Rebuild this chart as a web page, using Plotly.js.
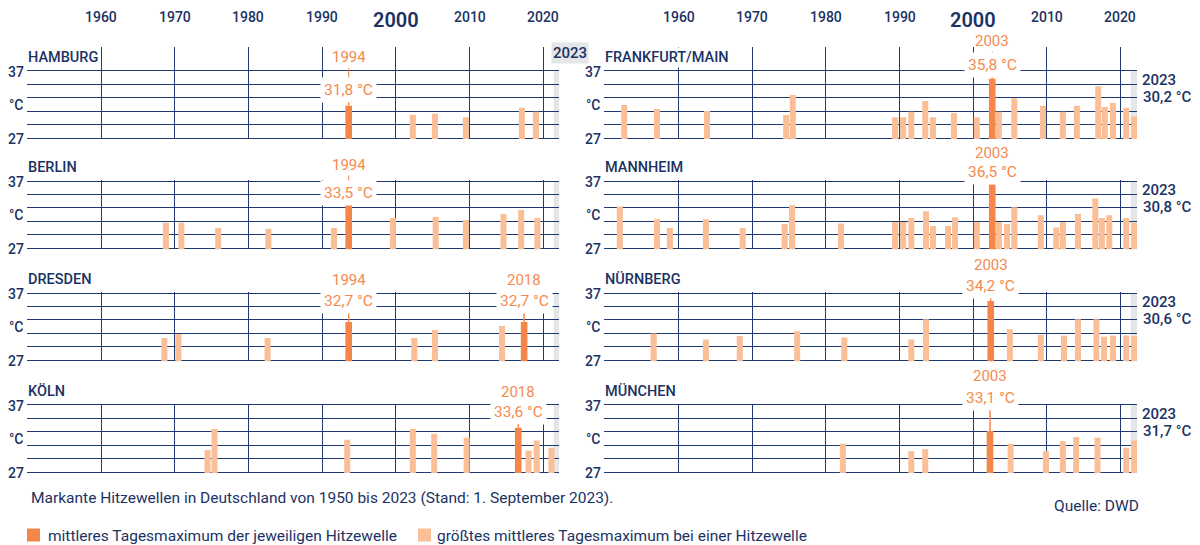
<!DOCTYPE html>
<html><head><meta charset="utf-8">
<script src="https://cdn.plot.ly/plotly-3.0.1.min.js"></script>
<style>html,body{margin:0;padding:0;background:#fff;overflow:hidden}#chart{width:1200px;height:545px}</style>
</head><body><div id="chart"></div>
<script>
// ---------------- DATA ----------------
const cityNames = ['HAMBURG','BERLIN','DRESDEN','KÖLN','FRANKFURT/MAIN','MANNHEIM','NÜRNBERG','MÜNCHEN'];
const decadeTicks = [1960,1970,1980,1990,2000,2010,2020];
const decadeLabels = ['1960','1970','1980','1990','2000','2010','2020'];
const tempTicks = [27,29,31,33,35,37];
const latestYear = '2023';

// x = position of the heat wave on the time axis (years), t = mean daily maximum (°C), m = 1 for the marked heat wave
const hamburgX = [1993.6, 2002.3, 2005.3, 2009.5, 2017.1, 2019.0];
const hamburgT = [31.8, 30.4, 30.6, 30.1, 31.5, 30.9];
const hamburgM = [1,0,0,0,0,0];

const berlinX = [1968.8, 1970.9, 1975.9, 1982.7, 1991.6, 1993.6, 1999.6, 2005.4, 2009.5, 2014.6, 2017.0, 2019.2];
const berlinT = [30.8, 30.8, 30.0, 29.9, 30.0, 33.5, 31.5, 31.7, 31.2, 32.1, 32.7, 31.5];
const berlinM = [0,0,0,0,0,1,0,0,0,0,0,0];

const dresdenX = [1968.6, 1970.5, 1982.6, 1993.6, 2002.5, 2005.3, 2014.4, 2017.4];
const dresdenT = [30.3, 30.9, 30.3, 32.7, 30.3, 31.5, 32.1, 32.7];
const dresdenM = [0,0,0,1,0,0,0,1];

const koelnX = [1974.45, 1975.4, 1993.4, 2002.3, 2005.2, 2009.6, 2016.6, 2018.0, 2019.1, 2021.1];
const koelnT = [30.3, 33.4, 31.8, 33.4, 32.7, 32.1, 33.6, 30.2, 31.7, 30.6];
const koelnM = [0,0,0,0,0,0,1,0,0,0];

const frankfurtX = [1952.6, 1957.05, 1963.85, 1974.6, 1975.5, 1989.4, 1990.5, 1991.6, 1993.5, 1994.55, 1997.4, 2000.5, 2002.6, 2003.5, 2005.6, 2009.5, 2012.2, 2014.1, 2017.0, 2017.9, 2019.0, 2020.8, 2021.9];
const frankfurtT = [31.9, 31.3, 31.0, 30.4, 33.4, 30.1, 30.1, 30.9, 32.5, 30.1, 30.7, 30.1, 35.8, 30.9, 32.9, 31.8, 30.9, 31.8, 34.7, 31.6, 32.2, 31.5, 30.2];
const frankfurtM = [0,0,0,0,0,0,0,0,0,0,0,0,1,0,0,0,0,0,0,0,0,0,0];

const mannheimX = [1952.0, 1957.05, 1958.8, 1963.7, 1968.7, 1974.4, 1975.4, 1982.05, 1989.4, 1990.5, 1991.6, 1993.6, 1994.55, 1996.6, 1997.55, 2000.5, 2002.6, 2003.5, 2004.6, 2005.6, 2009.2, 2011.3, 2012.2, 2014.25, 2016.6, 2017.5, 2018.5, 2020.8, 2021.9];
const mannheimT = [33.2, 31.3, 30.0, 31.3, 30.0, 30.6, 33.4, 30.7, 30.9, 30.9, 31.5, 32.5, 30.3, 30.3, 31.6, 30.9, 36.5, 30.9, 30.6, 33.1, 31.9, 30.1, 30.9, 32.1, 34.4, 31.5, 31.9, 31.5, 30.8];
const mannheimM = [0,0,0,0,0,0,0,0,0,0,0,0,0,0,0,0,1,0,0,0,0,0,0,0,0,0,0,0,0];

const nuernbergX = [1956.6, 1963.7, 1968.3, 1976.1, 1982.5, 1991.6, 1993.6, 2002.4, 2005.0, 2009.2, 2012.35, 2014.25, 2016.75, 2017.8, 2019.0, 2020.8, 2021.9];
const nuernbergT = [31.0, 30.1, 30.6, 31.3, 30.4, 30.1, 33.1, 35.8, 31.6, 30.8, 30.7, 33.1, 33.1, 30.5, 30.7, 30.7, 30.6];
const nuernbergM = [0,0,0,0,0,0,0,1,0,0,0,0,0,0,0,0,0];

const muenchenX = [1982.3, 1991.6, 1993.5, 2002.3, 2005.1, 2009.9, 2012.2, 2014.0, 2016.9, 2020.8, 2021.9];
const muenchenT = [31.2, 30.1, 30.4, 33.1, 31.2, 30.1, 31.6, 32.2, 32.1, 30.6, 31.7];
const muenchenM = [0,0,0,1,0,0,0,0,0,0,0];

// texts of the marked heat waves (in the order of the marked bars)
const markYears = [['1994'],['1994'],['1994','2018'],['2018'],['2003'],['2003'],['2003'],['2003']];
const markTexts = [['31,8 °C'],['33,5 °C'],['32,7 °C','32,7 °C'],['33,6 °C'],['35,8 °C'],['36,5 °C'],['34,2 °C'],['33,1 °C']];

const legendDark = 'mittleres Tagesmaximum der jeweiligen Hitzewelle';
const legendLight = 'größtes mittleres Tagesmaximum bei einer Hitzewelle';
const footerText = 'Markante Hitzewellen in Deutschland von 1950 bis 2023 (Stand: 1. September 2023).';
const sourceText = 'Quelle: DWD';

// ---------------- STYLE / LAYOUT CONSTANTS ----------------
const W = 1200, H = 545;
const NAVY = '#1b3264', GRID = '#1f3a72', DARK = '#f5864a', LIGHT = '#fabf96', ORANGE_TXT = '#f58a50', BAND = '#e5e6e8';
const FONT = 'Roboto, "Open Sans", sans-serif';
const PX = 6.73;                         // pixels per °C
const ROW_TOP = [70.7, 181, 293, 404.8]; // pixel row of the 37 °C line
const GRID_TOP_PX = 46.5;                // verticals of the first row reach up to here
const COL_L = [27, 604], COL_R = [559, 1137];
const X_RANGES = [[1949.96, 2022.13], [1949.85, 2022.27]];
const BAND_START = 2021.4;
const Y_BOTTOM = 26.85;
const yearLabelOffset = [-13.4, -16, -13.5, -13.2, -29.7, -28.3, -28.4, -28.7];
const valueLabelOffset = [19.3, 12.3, 8.3, 6.8, -5.7, -8.7, -7, -7];

const allX = [hamburgX, berlinX, dresdenX, koelnX, frankfurtX, mannheimX, nuernbergX, muenchenX];
const allT = [hamburgT, berlinT, dresdenT, koelnT, frankfurtT, mannheimT, nuernbergT, muenchenT];
const allM = [hamburgM, berlinM, dresdenM, koelnM, frankfurtM, mannheimM, nuernbergM, muenchenM];

const fmt = v => v.toFixed(1).replace('.', ',') + ' °C';
const py = p => 1 - p / H;

const traces = [];
const annotations = [];
const shapes = [];
const layout = {
  width: W, height: H, margin: {l:0, r:0, t:0, b:0, autoexpand: false},
  paper_bgcolor: '#fff', plot_bgcolor: 'rgba(0,0,0,0)',
  barmode: 'overlay', hovermode: false, showlegend: false,
  font: {family: FONT, color: NAVY, size: 14}
};

cityNames.forEach((city, i) => {
  const col = i < 4 ? 0 : 1, row = i % 4;
  const s = i === 0 ? '' : String(i + 1);
  const top37 = ROW_TOP[row];
  const yTop = row === 0 ? 37 + (top37 - GRID_TOP_PX) / PX : 37.15;
  const domTopPx = top37 - (yTop - 37) * PX;
  const domBotPx = top37 + (37 - Y_BOTTOM) * PX;

  layout['xaxis' + s] = {domain: [COL_L[col] / W, COL_R[col] / W], range: X_RANGES[col], anchor: 'y' + s,
    tickvals: decadeTicks, showgrid: true, gridcolor: GRID, gridwidth: 1, showticklabels: false,
    zeroline: false, showline: false, ticks: '', fixedrange: true};
  layout['yaxis' + s] = {domain: [py(domBotPx), py(domTopPx)], range: [Y_BOTTOM, yTop], anchor: 'x' + s,
    tickvals: tempTicks, showgrid: true, gridcolor: GRID, gridwidth: 1, showticklabels: false,
    zeroline: false, showline: false, ticks: '', fixedrange: true};

  const xs = allX[i], ts = allT[i], ms = allM[i];
  const dX = [], dT = [], lX = [], lT = [];
  xs.forEach((x, j) => { if (ms[j]) { dX.push(x); dT.push(ts[j]); } else { lX.push(x); lT.push(ts[j]); } });

  traces.push({type: 'bar', x: dX, y: dT, xaxis: 'x' + s, yaxis: 'y' + s, width: 0.9,
    marker: {color: DARK, line: {width: 0}}, name: legendDark, hoverinfo: 'skip'});
  traces.push({type: 'bar', x: lX, y: lT, xaxis: 'x' + s, yaxis: 'y' + s, width: 0.82,
    marker: {color: LIGHT, line: {width: 0}}, name: legendLight, hoverinfo: 'skip'});

  // 2023 band
  shapes.push({type: 'rect', xref: 'x' + s, yref: 'y' + s, x0: BAND_START, x1: X_RANGES[col][1], y0: 27, y1: 37,
    fillcolor: BAND, line: {width: 0}, layer: 'below'});

  // city title
  annotations.push({xref: 'paper', yref: 'paper', x: (COL_L[col] - 1) / W, y: py(top37 - 13.5), xanchor: 'left', yanchor: 'middle',
    text: city, showarrow: false, bgcolor: '#fff', borderpad: 1, font: {family: FONT, size: 14.5, color: NAVY, weight: 500}});

  // y labels
  [['37', 0], ['°C', 33.5], ['27', 67.3]].forEach(([t, off]) => {
    annotations.push({xref: 'paper', yref: 'paper', x: (COL_L[col] - 1.5) / W, y: py(top37 + off + 0.8), xanchor: 'right', yanchor: 'middle',
      text: t, showarrow: false, font: {family: FONT, size: 14, color: NAVY, weight: 500}});
  });

  // marked heat waves
  dX.forEach((x, k) => {
    const v = dT[k];
    const barTopPx = top37 + (37 - v) * PX;
    annotations.push({xref: 'x' + s, yref: 'y' + s, x: x, y: v, text: markYears[i][k], showarrow: true, arrowhead: 0,
      arrowwidth: 1, arrowcolor: DARK, standoff: 0, ax: 0, ay: top37 + yearLabelOffset[i] - barTopPx,
      font: {family: FONT, size: 15, color: ORANGE_TXT}});
    annotations.push({xref: 'x' + s, yref: 'y' + s, x: x, y: v, text: markTexts[i][k], showarrow: true, arrowhead: 0,
      arrowwidth: 1, arrowcolor: DARK, standoff: 0, ax: 0, ay: top37 + valueLabelOffset[i] - barTopPx,
      bgcolor: '#fff', borderpad: 3, font: {family: FONT, size: 15.5, color: ORANGE_TXT}});
  });

  // latest value (right column)
  if (col === 1) {
    annotations.push({xref: 'paper', yref: 'paper', x: 1140 / W, y: py(top37 + 9.3), xanchor: 'left', yanchor: 'middle',
      text: latestYear, showarrow: false, font: {family: FONT, size: 15, color: NAVY, weight: 500}});
    annotations.push({xref: 'paper', yref: 'paper', x: 1141 / W, y: py(top37 + 26), xanchor: 'left', yanchor: 'middle',
      text: fmt(ts[ts.length - 1]), showarrow: false, font: {family: FONT, size: 15, color: NAVY, weight: 500}});
  }
});

// decade labels on top of each column
['', '5'].forEach(s => {
  decadeTicks.forEach((d, k) => {
    const big = decadeLabels[k] === '2000';
    annotations.push({xref: 'x' + s, yref: 'paper', x: d, y: py(big ? 20.5 : 16.8), xanchor: 'center', yanchor: 'middle',
      text: decadeLabels[k], showarrow: false,
      font: {family: FONT, size: big ? 20 : 14, color: NAVY, weight: big ? 600 : 500}});
  });
});

// 2023 tag on Hamburg
annotations.push({xref: 'paper', yref: 'paper', x: 551 / W, y: py(53), xanchor: 'left', yanchor: 'middle',
  text: latestYear, showarrow: false, bgcolor: BAND, borderpad: 1, font: {family: FONT, size: 15, color: NAVY, weight: 500}});

// footer
annotations.push({xref: 'paper', yref: 'paper', x: 29 / W, y: py(497.5), xanchor: 'left', yanchor: 'middle',
  text: footerText, showarrow: false, font: {family: FONT, size: 15.5, color: NAVY}});
annotations.push({xref: 'paper', yref: 'paper', x: 1141 / W, y: py(505.5), xanchor: 'right', yanchor: 'middle',
  text: sourceText, showarrow: false, font: {family: FONT, size: 15.5, color: NAVY}});

// legend keys
[[legendDark, DARK, 27, 46], [legendLight, LIGHT, 418, 435]].forEach(([txt, c, x0, tx]) => {
  shapes.push({type: 'rect', xref: 'paper', yref: 'paper', x0: x0 / W, x1: (x0 + 13) / W, y0: py(541.5), y1: py(528.5),
    fillcolor: c, line: {width: 0}});
  annotations.push({xref: 'paper', yref: 'paper', x: tx / W, y: py(535.5), xanchor: 'left', yanchor: 'middle',
    text: txt, showarrow: false, font: {family: FONT, size: 15.5, color: NAVY}});
});

layout.annotations = annotations;
layout.shapes = shapes;

Plotly.newPlot('chart', traces, layout, {staticPlot: true, displayModeBar: false});
</script></body></html>
